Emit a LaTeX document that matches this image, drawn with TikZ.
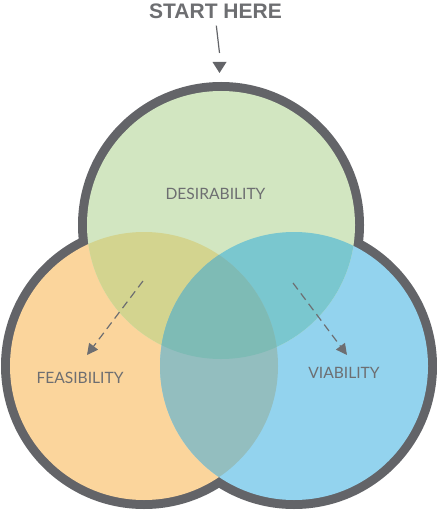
\documentclass[tikz,border=0pt]{standalone}
\usepackage{fontspec}
\setmainfont{Liberation Sans}
\newfontfamily\labelfont{Lato}
\usetikzlibrary{arrows.meta}
\definecolor{outlinegrey}{HTML}{636468}
\definecolor{textgrey}{HTML}{6D6E71}
\definecolor{greenC}{HTML}{D2E6C1}
\definecolor{orangeC}{HTML}{FBD59C}
\definecolor{blueC}{HTML}{93D3EE}
\definecolor{GOc}{HTML}{D3D48F}
\definecolor{GBc}{HTML}{7AC7CF}
\definecolor{OBc}{HTML}{93BEBF}
\definecolor{ALLc}{HTML}{7EBBB5}
\tikzset{
  setlabel/.style={font=\labelfont\fontsize{15.6}{15.6}\selectfont, text=textgrey, inner sep=0pt},
  starttext/.style={font=\bfseries\fontsize{21}{21}\selectfont, text=textgrey, inner sep=0pt},
  dasharrow/.style={draw=textgrey, line width=1.2pt, dash pattern=on 8pt off 5pt,
    -{Triangle[length=11pt,width=11pt]}},
}
\begin{document}
\begin{tikzpicture}[x=1pt,y=-1pt]
\useasboundingbox (0,0) rectangle (436,510);
\def\rin{134}
\def\rout{143}
\coordinate (cT) at (221,225);
\coordinate (cL) at (144,366);
\coordinate (cR) at (294,366);
% outline (union of larger circles)
\fill[outlinegrey] (cT) circle[radius=\rout] (cL) circle[radius=\rout] (cR) circle[radius=\rout];
% single regions
\fill[orangeC] (cL) circle[radius=\rin];
\fill[blueC] (cR) circle[radius=\rin];
\fill[greenC] (cT) circle[radius=\rin];
% pairwise overlaps
\begin{scope}
  \clip (cL) circle[radius=\rin];
  \fill[GOc] (cT) circle[radius=\rin];
\end{scope}
\begin{scope}
  \clip (cR) circle[radius=\rin];
  \fill[GBc] (cT) circle[radius=\rin];
\end{scope}
\begin{scope}
  \clip (cL) circle[radius=\rin];
  \fill[OBc] (cR) circle[radius=\rin];
\end{scope}
\begin{scope}
  \clip (cL) circle[radius=\rin];
  \clip (cR) circle[radius=\rin];
  \fill[ALLc] (cT) circle[radius=\rin];
\end{scope}
% start here
\node[starttext] (start) at (215.5,11) {START HERE};
\coordinate (lineEnd) at (219.5,53);
\draw[outlinegrey, line width=1.2pt, shorten <=7pt] (start.south) -- (lineEnd);
\coordinate (tipTop) at (219.5,73);
\fill[outlinegrey] (tipTop) -- ++(-7,-11) -- ++(14,0) -- cycle;
% labels
\node[setlabel] (des) at (215.5,194) {DESIRABILITY};
\node[setlabel] (feas) at (80,378) {FEASIBILITY};
\node[setlabel] (via) at (344,373) {VIABILITY};
% dashed arrows
\coordinate (dl0) at (143,281);
\coordinate (dl1) at (87,355);
\coordinate (dr0) at (293,283);
\coordinate (dr1) at (347,355);
\draw[dasharrow] (dl0) -- (dl1);
\draw[dasharrow] (dr0) -- (dr1);
\end{tikzpicture}
\end{document}
